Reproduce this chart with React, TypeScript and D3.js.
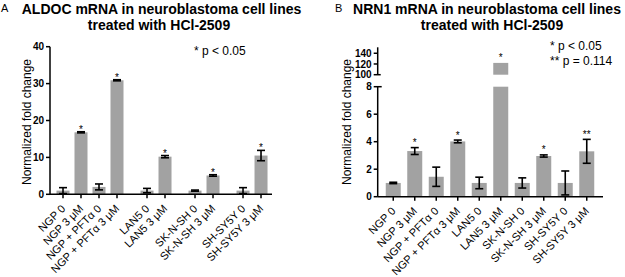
import React from "react";
import * as d3 from "d3";

const categories = [
  "NGP 0",
  "NGP 3 μM",
  "NGP + PFTα 0",
  "NGP + PFTα 3 μM",
  "LAN5 0",
  "LAN5 3 μM",
  "SK-N-SH 0",
  "SK-N-SH 3 μM",
  "SH-SY5Y 0",
  "SH-SY5Y 3 μM",
];
const groups = [0, 0, 0, 0, 1, 1, 2, 2, 3, 3];

const aldocMean = [1.0, 16.8, 2.0, 30.9, 1.0, 10.2, 1.0, 5.1, 1.0, 10.5];
const aldocErr = [0.8, 0.15, 0.8, 0.15, 0.6, 0.3, 0.15, 0.2, 0.8, 1.4];
const aldocSig = ["", "*", "", "*", "", "*", "", "*", "", "*"];
const aldocTicks = [0, 10, 20, 30, 40];

const nrn1Mean = [1.0, 3.32, 1.45, 4.02, 1.0, 122, 1.0, 2.96, 1.0, 3.3];
const nrn1Err = [0.05, 0.25, 0.7, 0.1, 0.42, 0, 0.37, 0.08, 0.87, 0.87];
const nrn1Sig = ["", "*", "", "*", "", "*", "", "*", "", "**"];
const nrn1LowTicks = [0, 2, 4, 6, 8];
const nrn1HighTicks = [100, 120, 140];

const FONT = "'Liberation Sans', Arial, Helvetica, sans-serif";
const BAR = "#a2a2a2";

function ErrorBar({ x, y0, y1, cap }: { x: number; y0: number; y1: number; cap: number }) {
  return (
    <g stroke="#000" strokeWidth={1.6} fill="none">
      <line x1={x} x2={x} y1={y0} y2={y1} />
      <line x1={x - cap / 2} x2={x + cap / 2} y1={y0} y2={y0} />
      <line x1={x - cap / 2} x2={x + cap / 2} y1={y1} y2={y1} />
    </g>
  );
}

function XLabels({ xs, axisY }: { xs: number[]; axisY: number }) {
  return (
    <g fontFamily={FONT} fontSize={11} fill="#000">
      {categories.map((c, i) => (
        <text
          key={c}
          transform={`translate(${xs[i] + 3},${axisY + 15}) rotate(-45)`}
          textAnchor="end"
        >
          {c}
        </text>
      ))}
    </g>
  );
}

function Stars({ xs, ys, sig }: { xs: number[]; ys: number[]; sig: string[] }) {
  return (
    <g fontFamily={FONT} fontSize={10} textAnchor="middle" fill="#000">
      {sig.map((s, i) =>
        s ? (
          <text key={i} x={xs[i]} y={ys[i]}>{s}</text>
        ) : null
      )}
    </g>
  );
}

function PanelA() {
  const x = d3.scaleLinear().domain([0, 11]).range([63, 261]);
  const xs = categories.map((_, i) => x(i + groups[i] * 0.667));
  const y = d3.scaleLinear().domain([0, 40]).range([194.3, 46.7]);
  const axisX = 50;
  const bw = 13;
  return (
    <g>
      <text x={1} y={12} fontFamily={FONT} fontSize={11}>A</text>
      <g fontFamily={FONT} fontSize={14} fontWeight="bold" textAnchor="middle">
        <text x={161.5} y={13.5}>ALDOC mRNA in neuroblastoma cell lines</text>
        <text x={159} y={29.5}>treated with HCl-2509</text>
      </g>
      <text x={194} y={55} fontFamily={FONT} fontSize={12}>* p &lt; 0.05</text>
      {aldocMean.map((m, i) => (
        <rect key={i} x={xs[i] - bw / 2} y={y(m)} width={bw} height={y(0) - y(m)} fill={BAR} />
      ))}
      {aldocMean.map((m, i) => (
        <ErrorBar key={i} x={xs[i]} y0={y(m + aldocErr[i])} y1={y(Math.max(0, m - aldocErr[i]))} cap={8} />
      ))}
      <Stars xs={xs} ys={aldocMean.map((m, i) => y(m + aldocErr[i]) + 1)} sig={aldocSig} />
      <g stroke="#000" strokeWidth={1.5} fill="none">
        <line x1={axisX} x2={axisX} y1={y(40)} y2={y(0)} />
        <line x1={axisX} x2={272} y1={y(0)} y2={y(0)} />
        {aldocTicks.map((t) => (
          <line key={t} x1={axisX - 4} x2={axisX} y1={y(t)} y2={y(t)} />
        ))}
        {xs.map((v, i) => (
          <line key={i} x1={v} x2={v} y1={y(0)} y2={y(0) + 4} />
        ))}
      </g>
      <g fontFamily={FONT} fontSize={10} fontWeight="bold" textAnchor="end">
        {aldocTicks.map((t) => (
          <text key={t} x={axisX - 6} y={y(t) + 3.6}>{t}</text>
        ))}
      </g>
      <text
        transform={`translate(31,122) rotate(-90)`}
        textAnchor="middle"
        fontFamily={FONT}
        fontSize={12}
      >
        Normalized fold change
      </text>
      <XLabels xs={xs} axisY={y(0)} />
    </g>
  );
}

function PanelB() {
  const x = d3.scalePoint<string>().domain(categories).range([382.5, 597.5]).padding(0.5);
  const xs = categories.map((c) => x(c) as number);
  const yLow = d3.scaleLinear().domain([0, 8]).range([196.7, 86.7]);
  const yHigh = d3.scaleLinear().domain([100, 150]).range([74.7, 47.9]);
  const axisX = 377.7;
  const bw = 15;
  const yOf = (v: number) => (v > 8 ? yHigh(v) : yLow(v));
  return (
    <g>
      <text x={335} y={12} fontFamily={FONT} fontSize={11}>B</text>
      <g fontFamily={FONT} fontSize={14} fontWeight="bold" textAnchor="middle">
        <text x={487} y={13.5}>NRN1 mRNA in neuroblastoma cell lines</text>
        <text x={492} y={29.5}>treated with HCl-2509</text>
      </g>
      <g fontFamily={FONT} fontSize={12}>
        <text x={550} y={50}>* p &lt; 0.05</text>
        <text x={550} y={64.5}>** p = 0.114</text>
      </g>
      {nrn1Mean.map((m, i) => (
        <g key={i}>
          <rect
            x={xs[i] - bw / 2}
            y={yLow(Math.min(m, 8))}
            width={bw}
            height={yLow(0) - yLow(Math.min(m, 8))}
            fill={BAR}
          />
          {m > 8 ? (
            <rect x={xs[i] - bw / 2} y={yHigh(m)} width={bw} height={yHigh(100) - yHigh(m)} fill={BAR} />
          ) : null}
        </g>
      ))}
      {nrn1Mean.map((m, i) =>
        nrn1Err[i] > 0 ? (
          <ErrorBar key={i} x={xs[i]} y0={yOf(m + nrn1Err[i])} y1={yOf(Math.max(0, m - nrn1Err[i]))} cap={8} />
        ) : null
      )}
      <Stars xs={xs} ys={nrn1Mean.map((m, i) => yOf(m + nrn1Err[i]) - 1.5)} sig={nrn1Sig} />
      <g stroke="#000" strokeWidth={1.5} fill="none">
        <line x1={axisX} x2={axisX} y1={yLow(8)} y2={yLow(0)} />
        <line x1={axisX} x2={axisX} y1={yHigh(150) - 0.6} y2={yHigh(100)} />
        <line x1={axisX} x2={603} y1={yLow(0)} y2={yLow(0)} />
        {nrn1LowTicks.map((t) => (
          <line key={t} x1={axisX - 4} x2={t === 8 ? axisX + 4 : axisX} y1={yLow(t)} y2={yLow(t)} />
        ))}
        {nrn1HighTicks.map((t) => (
          <line key={t} x1={axisX - 4} x2={t === 100 ? axisX + 3 : axisX} y1={yHigh(t)} y2={yHigh(t)} />
        ))}
        {xs.map((v, i) => (
          <line key={i} x1={v} x2={v} y1={yLow(0)} y2={yLow(0) + 4} />
        ))}
      </g>
      <g fontFamily={FONT} fontSize={10} fontWeight="bold" textAnchor="end">
        {nrn1LowTicks.map((t) => (
          <text key={t} x={axisX - 6} y={yLow(t) + 3.6}>{t}</text>
        ))}
        {nrn1HighTicks.map((t) => (
          <text key={t} x={axisX - 6} y={yHigh(t) + 3.6}>{t}</text>
        ))}
      </g>
      <text
        transform={`translate(351,122) rotate(-90)`}
        textAnchor="middle"
        fontFamily={FONT}
        fontSize={12}
      >
        Normalized fold change
      </text>
      <XLabels xs={xs} axisY={yLow(0)} />
    </g>
  );
}

export default function App() {
  return (
    <svg
      width={625}
      height={277}
      style={{ position: "absolute", left: 0, top: 0, background: "#fff" }}
    >
      <rect width={625} height={277} fill="#fff" />
      <PanelA />
      <PanelB />
    </svg>
  );
}
